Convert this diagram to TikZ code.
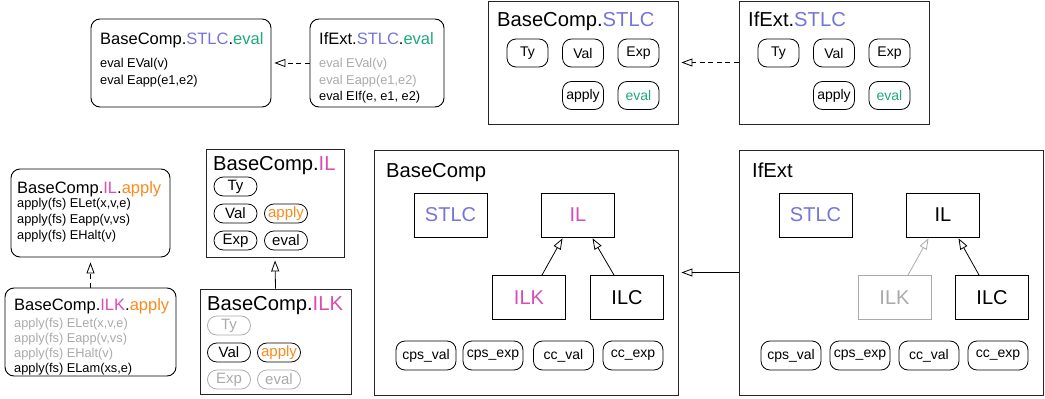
\documentclass[tikz,border=0pt]{standalone}
\usepackage{fontspec}
\setmainfont{Liberation Sans}
\usetikzlibrary{arrows.meta, positioning}
\definecolor{stlcBlue}{HTML}{7474DB}
\definecolor{evalGreen}{HTML}{1DA97C}
\definecolor{ilMagenta}{HTML}{D94BB5}
\definecolor{applyOrange}{HTML}{F98A1B}
\definecolor{ghostGray}{HTML}{AAAAAA}
\tikzset{
  codeBox/.style={rectangle, rounded corners=9pt, draw=black, line width=0.9pt},
  modBox/.style={rectangle, draw=black!85, line width=0.9pt},
  subBox/.style={rectangle, draw=black, line width=0.9pt, minimum width=73pt,
                 minimum height=44pt, inner sep=0pt, font=\fontsize{20pt}{24pt}\selectfont},
  pill/.style={rectangle, rounded corners=9pt, draw=black, line width=0.8pt,
               minimum width=41pt, minimum height=28pt, inner sep=0pt,
               font=\fontsize{14pt}{16pt}\selectfont},
  pillS/.style={pill, rounded corners=9.4pt, minimum width=43pt, minimum height=19pt,
                font=\fontsize{15pt}{17pt}\selectfont},
  pillW/.style={pill, minimum width=60pt, minimum height=29pt},
  ghost/.style={draw=ghostGray, text=ghostGray},
  titleBig/.style={anchor=base west, inner sep=0pt, font=\fontsize{20.2pt}{24pt}\selectfont},
  titleCode/.style={anchor=base west, inner sep=0pt, font=\fontsize{16.5pt}{20pt}\selectfont},
  codeLine/.style={anchor=base west, inner sep=0pt, font=\fontsize{12.8pt}{15pt}\selectfont},
  arrowI/.style={-{Triangle[open, length=11pt, width=8pt]}, line width=0.8pt, shorten >=3pt},
  arrowE/.style={arrowI, dash pattern=on 5pt off 3.5pt},
}
\newcommand{\stlc}{\textcolor{stlcBlue}{STLC}}
\newcommand{\il}[1]{\textcolor{ilMagenta}{#1}}
\newcommand{\ap}{\textcolor{applyOrange}{apply}}

\begin{document}
\begin{tikzpicture}[x=1pt, y=-1pt]
    \useasboundingbox (0,0) rectangle (1045,399);
    % eval de STLC (arriba izquierda)
    \node[codeBox, minimum width=180pt, minimum height=88pt] (baseEval) at (181,63) {};
    \node[titleCode] (baseEvalT) at (100,44) {BaseComp.\stlc.\textcolor{evalGreen}{eval}};
    \foreach \i/\y/\t in {1/67/{eval EVal(v)}, 2/84/{eval Eapp(e1,e2)}} {
      \node[codeLine] (baseEvalL\i) at (100,\y) {\t};
    }
    \node[codeBox, minimum width=134pt, minimum height=88pt] (ifEval) at (377,63) {};
    \node[titleCode] (ifEvalT) at (319,44) {IfExt.\stlc.\textcolor{evalGreen}{eval}};
    \foreach \i/\y/\c/\t in {1/67/ghostGray/{eval EVal(v)}, 2/84/ghostGray/{eval Eapp(e1,e2)},
                             3/100/black/{eval EIf(e, e1, e2)}} {
      \node[codeLine, text=\c] (ifEvalL\i) at (319,\y) {\t};
    }
    \draw[arrowE] (ifEval.west) -- (baseEval.east);

    % modulos STLC (arriba derecha)
    \node[modBox, minimum width=190pt, minimum height=123pt] (baseStlc) at (583,62.5) {};
    \node[titleBig] (baseStlcT) at (497,26) {BaseComp.\stlc};
    \node[modBox, minimum width=190pt, minimum height=123pt] (ifStlc) at (834,62.5) {};
    \node[titleBig] (ifStlcT) at (748,26) {IfExt.\stlc};
    \foreach \m/\x in {baseStlc/583, ifStlc/834} {
      \node[pill] (\m Ty)  at (\x-55.5,53) {Ty};
      \node[pill] (\m Val) at (\x,53) {Val};
      \node[pill] (\m Exp) at (\x+55.5,53) {Exp};
      \node[pill] (\m Apply) at (\x,95.5) {apply};
      \node[pill, text=evalGreen] (\m Eval) at (\x+55.5,95.5) {eval};
    }
    \draw[arrowE] (ifStlc.west) -- (baseStlc.east);

    % apply de IL / ILK (abajo izquierda)
    \node[codeBox, minimum width=159pt, minimum height=88pt] (ilApply) at (90.5,213) {};
    \node[titleCode] (ilApplyT) at (17,193) {BaseComp.\il{IL}.\ap};
    \foreach \i/\y/\t in {1/207/{apply(fs) ELet(x,v,e)}, 2/223/{apply(fs) Eapp(v,vs)},
                          3/239/{apply(fs) EHalt(v)}} {
      \node[codeLine] (ilApplyL\i) at (17,\y) {\t};
    }
    \node[codeBox, minimum width=171pt, minimum height=88pt] (ilkApply) at (90.5,332) {};
    \node[titleCode] (ilkApplyT) at (14,310) {BaseComp.\il{ILK}.\ap};
    \foreach \i/\y/\c/\t in {1/327/ghostGray/{apply(fs) ELet(x,v,e)},
                             2/342/ghostGray/{apply(fs) Eapp(v,vs)},
                             3/357/ghostGray/{apply(fs) EHalt(v)},
                             4/372/black/{apply(fs) ELam(xs,e)}} {
      \node[codeLine, text=\c] (ilkApplyL\i) at (14,\y) {\t};
    }
    \draw[arrowE, shorten >=5pt] (ilkApply.north) -- (ilApply.south);

    % modulos IL / ILK
    \node[modBox, minimum width=138pt, minimum height=108pt] (baseIl) at (275,203) {};
    \node[titleBig] (baseIlT) at (213,170) {BaseComp.\il{IL}};
    \node[pillS] (baseIlTy) at (235.5,186.5) {Ty};
    \node[pillS] (baseIlVal) at (235.5,213.5) {Val};
    \node[pillS, text=applyOrange] (baseIlApply) at (286,213.5) {apply};
    \node[pillS] (baseIlExp) at (235.5,240.5) {Exp};
    \node[pillS] (baseIlEval) at (286,240.5) {eval};
    \node[modBox, minimum width=151pt, minimum height=105pt] (baseIlk) at (275.5,341.5) {};
    \node[titleBig] (baseIlkT) at (207,310) {BaseComp.\il{ILK}};
    \node[pillS, ghost] (baseIlkTy) at (229,325.5) {Ty};
    \node[pillS] (baseIlkVal) at (229,352.5) {Val};
    \node[pillS, text=applyOrange] (baseIlkApply) at (279,352.5) {apply};
    \node[pillS, ghost] (baseIlkExp) at (229,379.5) {Exp};
    \node[pillS, ghost] (baseIlkEval) at (279,379.5) {eval};
    \draw[arrowI] (baseIlk.north) -- (baseIl.south);

    % componentes completos
    \node[modBox, minimum width=304pt, minimum height=245pt] (baseComp) at (526,272.5) {};
    \node[titleBig] (baseCompT) at (386,177) {BaseComp};
    \node[modBox, minimum width=304pt, minimum height=245pt] (ifExt) at (891,272.5) {};
    \node[titleBig] (ifExtT) at (752,177) {IfExt};
    % caja base
    \node[subBox, text=stlcBlue] (bcStlc) at (450.5,215) {STLC};
    \node[subBox, text=ilMagenta] (bcIl) at (578,215) {IL};
    \node[subBox, text=ilMagenta] (bcIlk) at (529,297.5) {ILK};
    \node[subBox] (bcIlc) at (627,297.5) {ILC};
    \draw[arrowI, shorten >=1pt] ([xshift=13pt]bcIlk.north) -- ([xshift=-15pt]bcIl.south);
    \draw[arrowI, shorten >=1pt] ([xshift=-13pt]bcIlc.north) -- ([xshift=14pt]bcIl.south);
    % caja extension
    \node[subBox, text=stlcBlue] (ieStlc) at (815.5,215) {STLC};
    \node[subBox] (ieIl) at (943,215) {IL};
    \node[subBox, ghost] (ieIlk) at (894.5,297.5) {ILK};
    \node[subBox] (ieIlc) at (992,297.5) {ILC};
    \draw[arrowI, shorten >=1pt, ghostGray] ([xshift=13.5pt]ieIlk.north) -- ([xshift=-14pt]ieIl.south);
    \draw[arrowI, shorten >=1pt] ([xshift=-13pt]ieIlc.north) -- ([xshift=15pt]ieIl.south);
    % pildoras cps / cc
    \foreach \i/\x/\t in {1/426/cps\_val, 2/493/cps\_exp, 3/563.5/cc\_val, 4/633/cc\_exp} {
      \node[pillW] (bcP\i) at (\x,355.5) {\t};
    }
    \foreach \i/\x/\t in {1/791/cps\_val, 2/860/cps\_exp, 3/929/cc\_val, 4/998/cc\_exp} {
      \node[pillW] (ieP\i) at (\x,355.5) {\t};
    }
    \draw[arrowI] (ifExt.west) -- (baseComp.east);
\end{tikzpicture}
\end{document}
